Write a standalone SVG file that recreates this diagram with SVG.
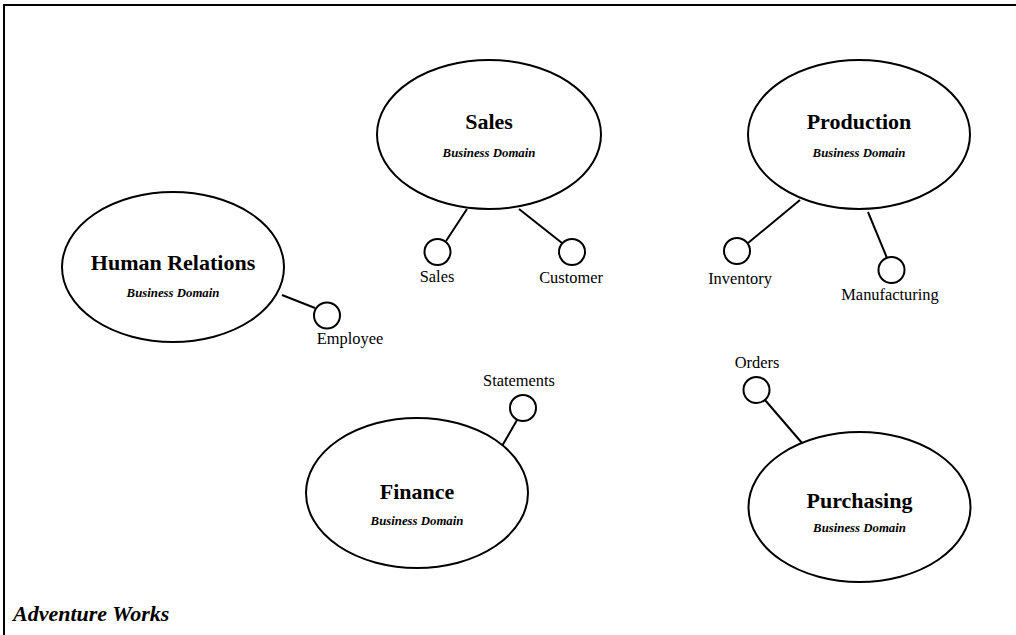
<svg xmlns="http://www.w3.org/2000/svg" width="1016" height="635" viewBox="0 0 1016 635">
<style>
.dom{fill:#fff;stroke:#000;stroke-width:2}
.port{fill:#fff;stroke:#000;stroke-width:2}
.ln{stroke:#000;stroke-width:2;fill:none}
.t{font-family:"Liberation Serif","Times New Roman",serif;font-weight:bold;font-size:22px;text-anchor:middle;fill:#000}
.s{font-family:"Liberation Serif","Times New Roman",serif;font-weight:bold;font-style:italic;font-size:12.8px;text-anchor:middle;fill:#000}
.l{font-family:"Liberation Serif","Times New Roman",serif;font-size:16.4px;text-anchor:middle;fill:#000}
</style>
<rect x="0" y="0" width="1016" height="635" fill="#fff"/>
<rect x="4" y="5" width="1030" height="650" fill="none" stroke="#000" stroke-width="2"/>
<text x="13" y="621" font-family="Liberation Serif, serif" font-weight="bold" font-style="italic" font-size="22">Adventure Works</text>
<g id="connectors">
<line class="ln" x1="467" y1="209" x2="446" y2="241"/>
<line class="ln" x1="519" y1="209" x2="562" y2="243"/>
<line class="ln" x1="800" y1="200" x2="748" y2="243"/>
<line class="ln" x1="868" y1="212" x2="887" y2="258"/>
<line class="ln" x1="282" y1="295" x2="315" y2="308"/>
<line class="ln" x1="498" y1="453" x2="517" y2="420"/>
<line class="ln" x1="765" y1="400" x2="802" y2="443"/>
</g>
<g id="sales">
<ellipse class="dom" cx="489" cy="134.5" rx="112" ry="74.5"/>
<text class="t" x="489" y="129">Sales</text>
<text class="s" x="489" y="157">Business Domain</text>
</g>
<g id="production">
<ellipse class="dom" cx="859" cy="134.5" rx="111" ry="74.5"/>
<text class="t" x="859" y="129">Production</text>
<text class="s" x="859" y="157">Business Domain</text>
</g>
<g id="human-relations">
<ellipse class="dom" cx="173" cy="267" rx="111" ry="75"/>
<text class="t" x="173" y="270">Human Relations</text>
<text class="s" x="173" y="297">Business Domain</text>
</g>
<g id="finance">
<ellipse class="dom" cx="417" cy="493" rx="111" ry="75"/>
<text class="t" x="417" y="499">Finance</text>
<text class="s" x="417" y="525">Business Domain</text>
</g>
<g id="purchasing">
<ellipse class="dom" cx="859.5" cy="507" rx="111" ry="75"/>
<text class="t" x="859.5" y="508">Purchasing</text>
<text class="s" x="859.5" y="532">Business Domain</text>
</g>
<g id="port-sales">
<circle class="port" cx="437.5" cy="252" r="13"/>
<text class="l" x="437" y="282">Sales</text>
</g>
<g id="port-customer">
<circle class="port" cx="572" cy="252" r="13"/>
<text class="l" x="571" y="283">Customer</text>
</g>
<g id="port-inventory">
<circle class="port" cx="737" cy="251" r="13"/>
<text class="l" x="740" y="284">Inventory</text>
</g>
<g id="port-manufacturing">
<circle class="port" cx="891.5" cy="270" r="13"/>
<text class="l" x="890" y="300">Manufacturing</text>
</g>
<g id="port-employee">
<circle class="port" cx="327" cy="315.5" r="13"/>
<text class="l" x="350" y="344">Employee</text>
</g>
<g id="port-statements">
<circle class="port" cx="523" cy="408" r="13"/>
<text class="l" x="519" y="386">Statements</text>
</g>
<g id="port-orders">
<circle class="port" cx="756.5" cy="390" r="13"/>
<text class="l" x="757" y="368">Orders</text>
</g>
</svg>
